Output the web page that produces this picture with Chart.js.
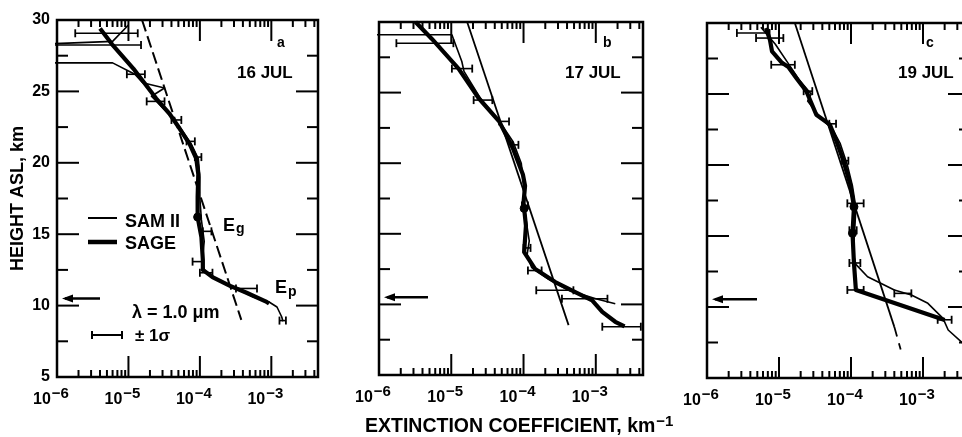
<!DOCTYPE html>
<html><head><meta charset="utf-8">
<script src="https://cdn.jsdelivr.net/npm/chart.js@4.4.1/dist/chart.umd.min.js"></script>
<style>
html,body{margin:0;padding:0;background:#fff;}
#wrap{position:relative;width:962px;height:437px;overflow:hidden;background:#fff;}
canvas{position:absolute;top:0;}
</style></head><body>
<div id="wrap">
<canvas id="ca" width="330" height="437" style="left:0px"></canvas>
<canvas id="cb" width="360" height="437" style="left:330px"></canvas>
<canvas id="cc" width="330" height="437" style="left:655px"></canvas>
</div>
<script>
// ---------------- DATA ----------------
const xDecades = [-6, -5, -4, -3];
const panelLetters = ['a', 'b', 'c'];
const panelDates = ['16 JUL', '17 JUL', '19 JUL'];
const tropopauseKm = [10.5, 10.5, 10.55];

// Panel a (16 JUL)
const sageKmA  = [29.4, 28.3, 26.6, 24.5, 23.4, 22.4, 21.3, 20.3, 19.2, 17.6, 16.2, 14.8, 13.2, 12.5, 12.0, 11.4, 10.9, 10.3, 10.15];
const sageExtA = [4.0e-6, 5.9e-6, 1.17e-5, 2.45e-5, 3.8e-5, 5.2e-5, 7.2e-5, 8.9e-5, 9.5e-5, 9.3e-5, 9.3e-5, 1.05e-4, 1.10e-4, 1.10e-4, 1.5e-4, 2.6e-4, 4.5e-4, 8.3e-4, 9.3e-4];
const samKmA  = [29.65, 28.5, 28.25, 27.0, 27.0, 26.2, 25.6, 25.24, 24.66, 23.5, 22.4, 21.3, 20.3, 19.0, 17.5, 16.0, 14.5, 13.0, 12.3, 11.8, 11.2, 10.6, 10.25, 9.9, 9.2, 8.9];
const samExtA = [1.0e-5, 6.0e-6, 3e-7, 3e-7, 6.0e-6, 1.23e-5, 1.58e-5, 3.2e-5, 2.1e-5, 3.5e-5, 5.4e-5, 7.6e-5, 9.5e-5, 1.0e-4, 1.0e-4, 1.05e-4, 1.15e-4, 1.07e-4, 1.2e-4, 1.8e-4, 3.2e-4, 5.6e-4, 9.3e-4, 1.2e-3, 1.4e-3, 1.45e-3];
const errKmA = [29.07, 28.25, 26.2, 24.3, 23.0, 21.5, 20.4, 15.2, 13.08, 12.3, 11.2, 8.95];
const errLoA = [1.8e-6, 1e-7, 9.5e-6, 1.8e-5, 4.0e-5, 6.5e-5, 8.5e-5, 1.1e-4, 7.9e-5, 1.0e-4, 3.2e-4, 1.3e-3];
const errHiA = [1.35e-5, 1.5e-5, 1.7e-5, 3.2e-5, 5.5e-5, 8.5e-5, 1.05e-4, 1.45e-4, 1.1e-4, 1.5e-4, 6.3e-4, 1.6e-3];
const egKmA = [30, 9.0];
const egExtA = [1.55e-5, 3.8e-4];
const dotKmA = [16.2];
const dotExtA = [9.3e-5];

// Panel b (17 JUL)
const sageKmB  = [30.0, 28.8, 26.7, 24.6, 22.96, 21.08, 19.2, 18.4, 17.2, 15.56, 13.7, 12.5, 11.58, 10.87, 10.29, 9.47, 8.77, 8.45];
const sageExtB = [3.2e-6, 5.4e-6, 1.26e-5, 2.4e-5, 4.6e-5, 7.1e-5, 9.8e-5, 1.05e-4, 1.0e-4, 1.08e-4, 1.02e-4, 1.45e-4, 2.75e-4, 5.2e-4, 8.9e-4, 1.23e-3, 1.86e-3, 2.5e-3];
const samKmB  = [29.1, 29.1, 27.2, 26.5, 24.5, 23.0, 21.5, 20.0, 18.5, 17.0, 15.5, 14.5, 13.5, 12.6, 11.8, 11.0, 10.4, 10.05];
const samExtB = [3e-7, 1.02e-5, 1.4e-5, 1.5e-5, 2.6e-5, 4.6e-5, 7.2e-5, 9.3e-5, 1.0e-4, 1.02e-4, 1.12e-4, 1.2e-4, 1.12e-4, 1.3e-4, 2.2e-4, 4.2e-4, 1.0e-3, 1.86e-3];
const errKmB = [28.5, 26.7, 24.47, 22.96, 21.3, 17.0, 14.0, 12.4, 11.0, 10.4, 8.42];
const errLoB = [1.74e-6, 1.02e-5, 2.04e-5, 4.6e-5, 7.0e-5, 9.5e-5, 1.0e-4, 1.15e-4, 1.5e-4, 3.4e-4, 1.23e-3];
const errHiB = [1.07e-5, 1.95e-5, 3.7e-5, 6.3e-5, 8.5e-5, 1.15e-4, 1.25e-4, 1.78e-4, 4.9e-4, 1.45e-3, 4.2e-3];
const egKmB = [30, 8.53];
const egExtB = [1.66e-5, 4.2e-4];
const dotKmB = [16.8];
const dotExtB = [1.02e-4];

// Panel c (19 JUL)
const sageKmC  = [29.65, 28.8, 28.0, 27.2, 26.9, 26.13, 25.19, 23.54, 22.84, 21.67, 20.26, 18.61, 17.06, 15.19, 13.08, 11.2, 9.08];
const sageExtC = [6.6e-6, 7.5e-6, 8.0e-6, 1.1e-5, 1.35e-5, 1.74e-5, 2.4e-5, 3.3e-5, 5.1e-5, 6.3e-5, 7.9e-5, 9.8e-5, 1.1e-4, 1.05e-4, 1.1e-4, 1.17e-4, 2.0e-3];
const samKmC  = [29.7, 28.5, 27.0, 26.0, 25.0, 24.5, 23.3, 22.5, 21.5, 20.0, 18.5, 17.0, 15.2, 13.8, 13.0, 12.13, 11.2, 10.85, 10.26, 9.2, 8.38, 7.44];
const samExtC = [5.6e-6, 8.9e-6, 1.41e-5, 1.9e-5, 2.8e-5, 2.5e-5, 3.8e-5, 5.6e-5, 7.1e-5, 8.9e-5, 1.05e-4, 1.17e-4, 1.12e-4, 1.07e-4, 1.17e-4, 1.7e-4, 4.0e-4, 6.9e-4, 1.17e-3, 1.9e-3, 2.24e-3, 3.6e-3];
const errKmC = [29.3, 28.94, 27.06, 25.2, 22.9, 20.3, 17.3, 15.4, 13.1, 11.2, 10.96, 9.1];
const errLoC = [2.6e-6, 4.8e-6, 7.8e-6, 2.2e-5, 5.0e-5, 7.5e-5, 8.9e-5, 9.5e-5, 9.5e-5, 8.9e-5, 4.0e-4, 1.6e-3];
const errHiC = [7.4e-6, 1.15e-5, 1.66e-5, 2.9e-5, 6.2e-5, 9.2e-5, 1.5e-4, 1.2e-4, 1.35e-4, 1.5e-4, 6.9e-4, 2.5e-3];
const egKmC = [30, 8.6];
const egExtC = [1.66e-5, 4.0e-4];
const egTailKmC = [8.6, 7.0];
const egTailExtC = [4.0e-4, 4.9e-4];
const dotKmC = [17.06, 15.19];
const dotExtC = [1.1e-4, 1.05e-4];

// ---------------- RENDERING ----------------
const FONT = '"Liberation Sans", Arial, Helvetica, sans-serif';
const X_MIN = 1e-6, X_MAX = 4.5e-3;

function pts(km, ext) { return km.map((k, i) => ({ x: ext[i], y: k })); }
function lineDs(km, ext, w, dash) {
  return { data: pts(km, ext), showLine: true, borderColor: '#000', borderWidth: w,
    borderDash: dash || [], pointRadius: 0, tension: 0, borderJoinStyle: 'round', clip: 2 };
}
function errDs(km, lo, hi) {
  return km.map((k, i) => ({ data: [{ x: lo[i], y: k }, { x: hi[i], y: k }], showLine: true,
    borderColor: '#000', borderWidth: 1.6, pointStyle: 'line', pointRotation: 90, pointRadius: 4,
    pointBorderWidth: 1.8, pointBorderColor: '#000', clip: 2 }));
}
function dotDs(km, ext) {
  return { data: pts(km, ext), showLine: false, pointRadius: 4, pointStyle: 'circle',
    pointBackgroundColor: '#000', pointBorderColor: '#000', clip: 2 };
}

function seg(ctx, x1, y1, x2, y2) { ctx.beginPath(); ctx.moveTo(x1, y1); ctx.lineTo(x2, y2); ctx.stroke(); }
function rich(ctx, parts, x, y) {
  let cx = x;
  parts.forEach(p => {
    ctx.font = 'bold ' + p.size + 'px ' + FONT;
    ctx.fillText(p.s, cx, y + (p.dy || 0));
    cx += ctx.measureText(p.s).width + (p.gap || 0);
  });
}
function richWidth(ctx, parts) {
  let w = 0;
  parts.forEach(p => { ctx.font = 'bold ' + p.size + 'px ' + FONT; w += ctx.measureText(p.s).width + (p.gap || 0); });
  return w;
}

const decor = {
  id: 'decor',
  afterDraw(chart, args, o) {
    const ctx = chart.ctx, a = chart.chartArea, xs = chart.scales.x, ys = chart.scales.y;
    ctx.save();
    ctx.strokeStyle = '#000'; ctx.fillStyle = '#000'; ctx.lineCap = 'butt';
    // frame
    ctx.lineWidth = 2.5;
    ctx.strokeRect(a.left, a.top, a.right - a.left, a.bottom - a.top);
    ctx.lineWidth = 2;
    // x ticks (inward, top and bottom)
    for (let k = -6; k <= -2; k++) for (let m = 1; m <= 9; m++) {
      const v = m * Math.pow(10, k);
      if (v <= xs.min * 1.001 || v >= xs.max) continue;
      const px = xs.getPixelForValue(v);
      const L = m === 1 ? 21 : 7;
      seg(ctx, px, a.bottom, px, a.bottom - L);
      seg(ctx, px, a.top, px, a.top + L);
    }
    // y ticks (inward, left and right)
    for (let km = 7.5; km < 30; km += 2.5) {
      const py = ys.getPixelForValue(km);
      const L = km % 5 === 0 ? 22 : 11;
      seg(ctx, a.left, py, a.left + L, py);
      seg(ctx, a.right, py, a.right - L, py);
    }
    // x tick labels 10^n
    ctx.textBaseline = 'alphabetic'; ctx.textAlign = 'left';
    xDecades.forEach(n => {
      const px = xs.getPixelForValue(Math.pow(10, n));
      const parts = [{ s: '10', size: 16, gap: 1 }, { s: '\u2212' + Math.abs(n), size: 15, dy: -6 }];
      const w = richWidth(ctx, parts);
      rich(ctx, parts, px - 6 - w / 2, a.bottom + 27);
    });
    // tropopause arrow
    const ty = ys.getPixelForValue(o.tropo);
    ctx.lineWidth = 2.5;
    seg(ctx, a.left + 8, ty, a.left + o.arrowLen, ty);
    ctx.beginPath();
    ctx.moveTo(a.left + 5, ty); ctx.lineTo(a.left + 16, ty - 4); ctx.lineTo(a.left + 16, ty + 4); ctx.closePath(); ctx.fill();
    // panel letter and date
    ctx.font = 'bold 14px ' + FONT; ctx.fillText(o.letter, o.letterX, 47);
    ctx.font = 'bold 17px ' + FONT; ctx.fillText(o.date, o.dateX, 78);
    if (o.extra) o.extra(ctx, chart);
    ctx.restore();
  }
};

function makeChart(id, datasets, pad, yAxis, deco) {
  return new Chart(document.getElementById(id), {
    type: 'scatter',
    data: { datasets },
    options: {
      responsive: false, animation: false, events: [],
      layout: { padding: pad },
      plugins: { legend: { display: false }, tooltip: { enabled: false }, decor: deco },
      scales: {
        x: { type: 'logarithmic', min: X_MIN, max: X_MAX, display: false },
        y: yAxis
      }
    },
    plugins: [decor]
  });
}

const yHidden = { type: 'linear', min: 5, max: 30, display: false };
const yShown = {
  type: 'linear', min: 5, max: 30, display: true,
  grid: { display: false, drawTicks: false }, border: { display: false },
  ticks: { stepSize: 5, color: '#000', padding: 7, font: { family: FONT, size: 16, weight: 'bold' } },
  title: { display: true, text: 'HEIGHT ASL, km', color: '#000', font: { family: FONT, size: 18, weight: 'bold' }, padding: { top: 7, bottom: 0 } },
  afterFit(s) { s.width = 57; }
};

// Panel a
makeChart('ca', [
  ...errDs(errKmA, errLoA, errHiA),
  lineDs(egKmA, egExtA, 2, [12, 5]),
  lineDs(samKmA, samExtA, 1.6),
  lineDs(sageKmA, sageExtA, 4.2),
  dotDs(dotKmA, dotExtA)
], { top: 20, bottom: 60, left: 0, right: 12 }, yShown, {
  tropo: tropopauseKm[0], arrowLen: 43, letter: panelLetters[0], letterX: 277, date: panelDates[0], dateX: 237,
  extra(ctx) {
    ctx.lineWidth = 2; seg(ctx, 88, 218, 117, 218);
    ctx.lineWidth = 4.5; seg(ctx, 88, 242, 117, 242);
    ctx.font = 'bold 18px ' + FONT;
    ctx.fillText('SAM II', 125, 227);
    ctx.fillText('SAGE', 125, 249);
    rich(ctx, [{ s: 'E', size: 18, gap: 1 }, { s: 'g', size: 14, dy: 2 }], 223, 231);
    rich(ctx, [{ s: 'E', size: 18, gap: 1 }, { s: 'p', size: 14, dy: 3 }], 275, 293);
    ctx.font = 'bold 18px ' + FONT;
    ctx.fillText('\u03bb = 1.0 \u03bcm', 132, 318);
    ctx.lineWidth = 2; seg(ctx, 92, 335, 122, 335); seg(ctx, 92, 331, 92, 339); seg(ctx, 122, 331, 122, 339);
    ctx.font = 'bold 17px ' + FONT;
    ctx.fillText('\u00b1 1\u03c3', 135, 341);
  }
});

// Panel b
makeChart('cb', [
  ...errDs(errKmB, errLoB, errHiB),
  lineDs(egKmB, egExtB, 1.8),
  lineDs(samKmB, samExtB, 1.6),
  lineDs(sageKmB, sageExtB, 4.2),
  dotDs(dotKmB, dotExtB)
], { top: 22, bottom: 62, left: 49, right: 47 }, yHidden, {
  tropo: tropopauseKm[1], arrowLen: 49, letter: panelLetters[1], letterX: 273, date: panelDates[1], dateX: 235,
  extra(ctx) {
    rich(ctx, [{ s: 'EXTINCTION COEFFICIENT, km', size: 19.5, gap: 1 }, { s: '\u22121', size: 15, dy: -6 }], 35, 432);
  }
});

// Panel c
makeChart('cc', [
  ...errDs(errKmC, errLoC, errHiC),
  lineDs(egKmC, egExtC, 1.8),
  lineDs(egTailKmC, egTailExtC, 1.8, [10, 7]),
  lineDs(samKmC, samExtC, 1.6),
  lineDs(sageKmC, sageExtC, 4.2),
  dotDs(dotKmC, dotExtC)
], { top: 23, bottom: 59, left: 52, right: 15 }, yHidden, {
  tropo: tropopauseKm[2], arrowLen: 50, letter: panelLetters[2], letterX: 271, date: panelDates[2], dateX: 243
});
</script>
</body></html>
